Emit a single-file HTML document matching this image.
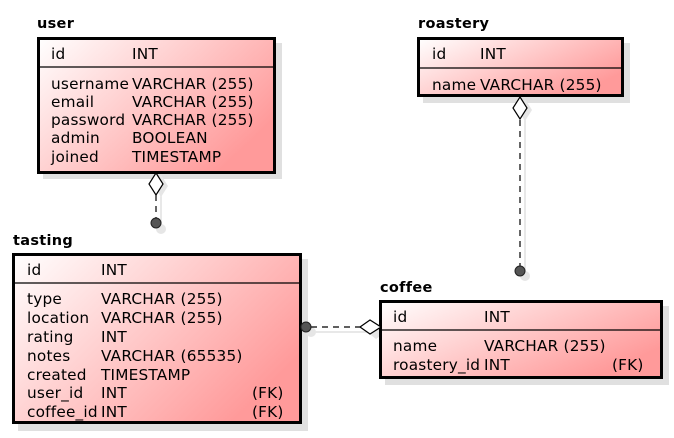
<!DOCTYPE html>
<html><head><meta charset="utf-8"><style>
html,body{margin:0;padding:0;background:#fff;width:674px;height:438px;overflow:hidden}
svg{display:block}
text{font-family:"DejaVu Sans","Liberation Sans",sans-serif;font-size:15.3px;letter-spacing:0.2px;fill:#000}
.t{font-weight:bold;font-size:14.5px;letter-spacing:0.3px}
</style></head><body>
<svg width="674" height="438" viewBox="0 0 674 438" xmlns="http://www.w3.org/2000/svg">
<defs>
<linearGradient id="g" x1="0" y1="0" x2="1" y2="0.6">
<stop offset="0" stop-color="#ffffff"/><stop offset="1" stop-color="#ff9a9a"/>
</linearGradient>
</defs>
<g fill="#e0e0e0">
<rect x="43" y="43" width="239" height="136"/>
<rect x="423" y="43" width="207" height="60"/>
<rect x="18" y="259" width="290" height="172"/>
<rect x="385" y="306" width="284" height="79"/>
</g>
<g stroke="#e0e0e0" fill="none" stroke-width="1.5">
<line x1="161" y1="185" x2="161" y2="228"/>
<line x1="525" y1="110" x2="525" y2="276"/>
<line x1="311" y1="332" x2="376" y2="332"/>
</g>
<g fill="#e6e6e6">
<circle cx="161" cy="229" r="5"/><circle cx="525" cy="276" r="5"/><circle cx="311" cy="332" r="5"/>
<polygon points="161,175 168,186 161,197 154,186"/>
<polygon points="525,99 532,110 525,121 518,110"/>
<polygon points="367,332 376,325 386,332 376,339" />
</g>
<g fill="url(#g)" stroke="#000" stroke-width="3">
<rect x="38.5" y="38.5" width="236" height="134"/>
<rect x="418.5" y="38.5" width="204" height="57"/>
<rect x="13.5" y="254.5" width="287" height="168"/>
<rect x="380.5" y="301.5" width="281" height="76"/>
</g>
<g stroke="#000" stroke-width="1.2">
<line x1="38" y1="67" x2="275" y2="67"/>
<line x1="418" y1="68" x2="623" y2="68"/>
<line x1="13" y1="283" x2="301" y2="283"/>
<line x1="380" y1="330" x2="662" y2="330"/>
</g>
<g stroke="#000" fill="none" stroke-width="1.2" stroke-dasharray="6,5">
<line x1="156" y1="195" x2="156" y2="218"/>
<line x1="520" y1="120" x2="520" y2="266"/>
<line x1="311" y1="327" x2="360" y2="327"/>
</g>
<g fill="#fff" stroke="#000" stroke-width="1.2">
<polygon points="156,173 163,184 156,195 149,184"/>
<polygon points="520,97 527,108 520,119 513,108"/>
<polygon points="360,327 370,320 381,327 370,334"/>
</g>
<g fill="#555" stroke="#222" stroke-width="1">
<circle cx="156" cy="223" r="5"/><circle cx="520" cy="271" r="5"/><circle cx="306" cy="327" r="5"/>
</g>
<text class="t" x="37" y="28">user</text>
<text class="t" x="418" y="28">roastery</text>
<text class="t" x="13" y="245">tasting</text>
<text class="t" x="380" y="292">coffee</text>
<text x="51" y="59">id</text><text x="132" y="59">INT</text>
<text x="51" y="89">username</text><text x="132" y="89">VARCHAR (255)</text>
<text x="51" y="107">email</text><text x="132" y="107">VARCHAR (255)</text>
<text x="51" y="125">password</text><text x="132" y="125">VARCHAR (255)</text>
<text x="51" y="143">admin</text><text x="132" y="143">BOOLEAN</text>
<text x="51" y="162">joined</text><text x="132" y="162">TIMESTAMP</text>
<text x="432" y="59">id</text><text x="480" y="59">INT</text>
<text x="432" y="90">name</text><text x="480" y="90">VARCHAR (255)</text>
<text x="27" y="275">id</text><text x="101" y="275">INT</text>
<text x="27" y="304">type</text><text x="101" y="304">VARCHAR (255)</text>
<text x="27" y="323">location</text><text x="101" y="323">VARCHAR (255)</text>
<text x="27" y="342">rating</text><text x="101" y="342">INT</text>
<text x="27" y="361">notes</text><text x="101" y="361">VARCHAR (65535)</text>
<text x="27" y="380">created</text><text x="101" y="380">TIMESTAMP</text>
<text x="27" y="398">user_id</text><text x="101" y="398">INT</text><text x="252" y="398">(FK)</text>
<text x="27" y="417">coffee_id</text><text x="101" y="417">INT</text><text x="252" y="417">(FK)</text>
<text x="393" y="322">id</text><text x="484" y="322">INT</text>
<text x="393" y="351">name</text><text x="484" y="351">VARCHAR (255)</text>
<text x="393" y="370">roastery_id</text><text x="484" y="370">INT</text><text x="612" y="370">(FK)</text>
</svg>
</body></html>
